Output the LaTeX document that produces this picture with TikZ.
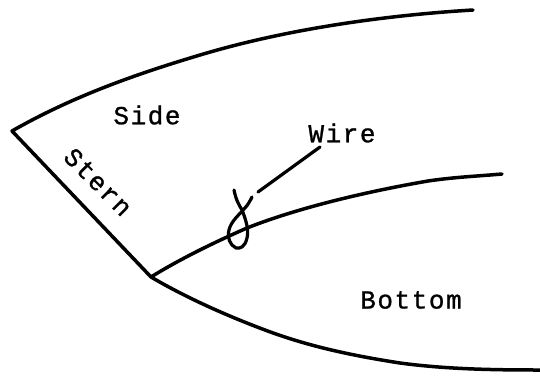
\documentclass[tikz,border=0pt]{standalone}
\usepackage{fontspec}
\setmainfont{Liberation Mono}[FakeBold=1,LetterSpace=6]
\tikzset{hull/.style={line width=3.5pt,line cap=round,line join=round,black},
wirestroke/.style={line width=3.2pt,line cap=round,line join=round,black},
lab/.style={font=\fontsize{26}{30}\selectfont,text=black,inner sep=0pt}}
\begin{document}
\begin{tikzpicture}[x=1pt,y=-1pt]
\useasboundingbox (0,0) rectangle (540,375);
\coordinate (tip) at (12,131);
\coordinate (keel) at (151,277);
\coordinate (topend) at (473,10);
\coordinate (midend) at (502,174);
\coordinate (botend) at (540,370);
\draw[hull] (topend) .. controls (390,15) and (290,28) .. (200,55) .. controls (140,73) and (75,95) .. (tip) -- (keel);
\draw[hull] (keel) .. controls (180,259) and (215,242) .. (247,228) .. controls (300,207) and (370,191) .. (428,181) .. controls (455,177) and (480,176) .. (midend);
\draw[hull] (keel) .. controls (185,297) and (225,315) .. (265,330) .. controls (310,347) and (355,356) .. (400,363) .. controls (445,369) and (490,370) .. (botend);
\node[lab] (side) at (147,115) {Side};
\node[lab,rotate=-45] (stern) at (98,182) {Stern};
\node[lab] (wire) at (342,133) {Wire};
\node[lab] (bottom) at (411,300) {Bottom};
\coordinate (wireend) at (320,147);
\coordinate (loopstart) at (258,192);
\draw[wirestroke] (wireend) -- (loopstart);
\draw[wirestroke] (234,190) .. controls (236,200) and (239,205) .. (242,210) .. controls (246,220) and (249,230) .. (247,238) .. controls (245,247) and (240,249) .. (236,248) .. controls (230,245) and (227,238) .. (229,230) .. controls (231,221) and (240,214) .. (244,209) .. controls (248,205) and (250,201) .. (252,197);
\end{tikzpicture}
\end{document}
